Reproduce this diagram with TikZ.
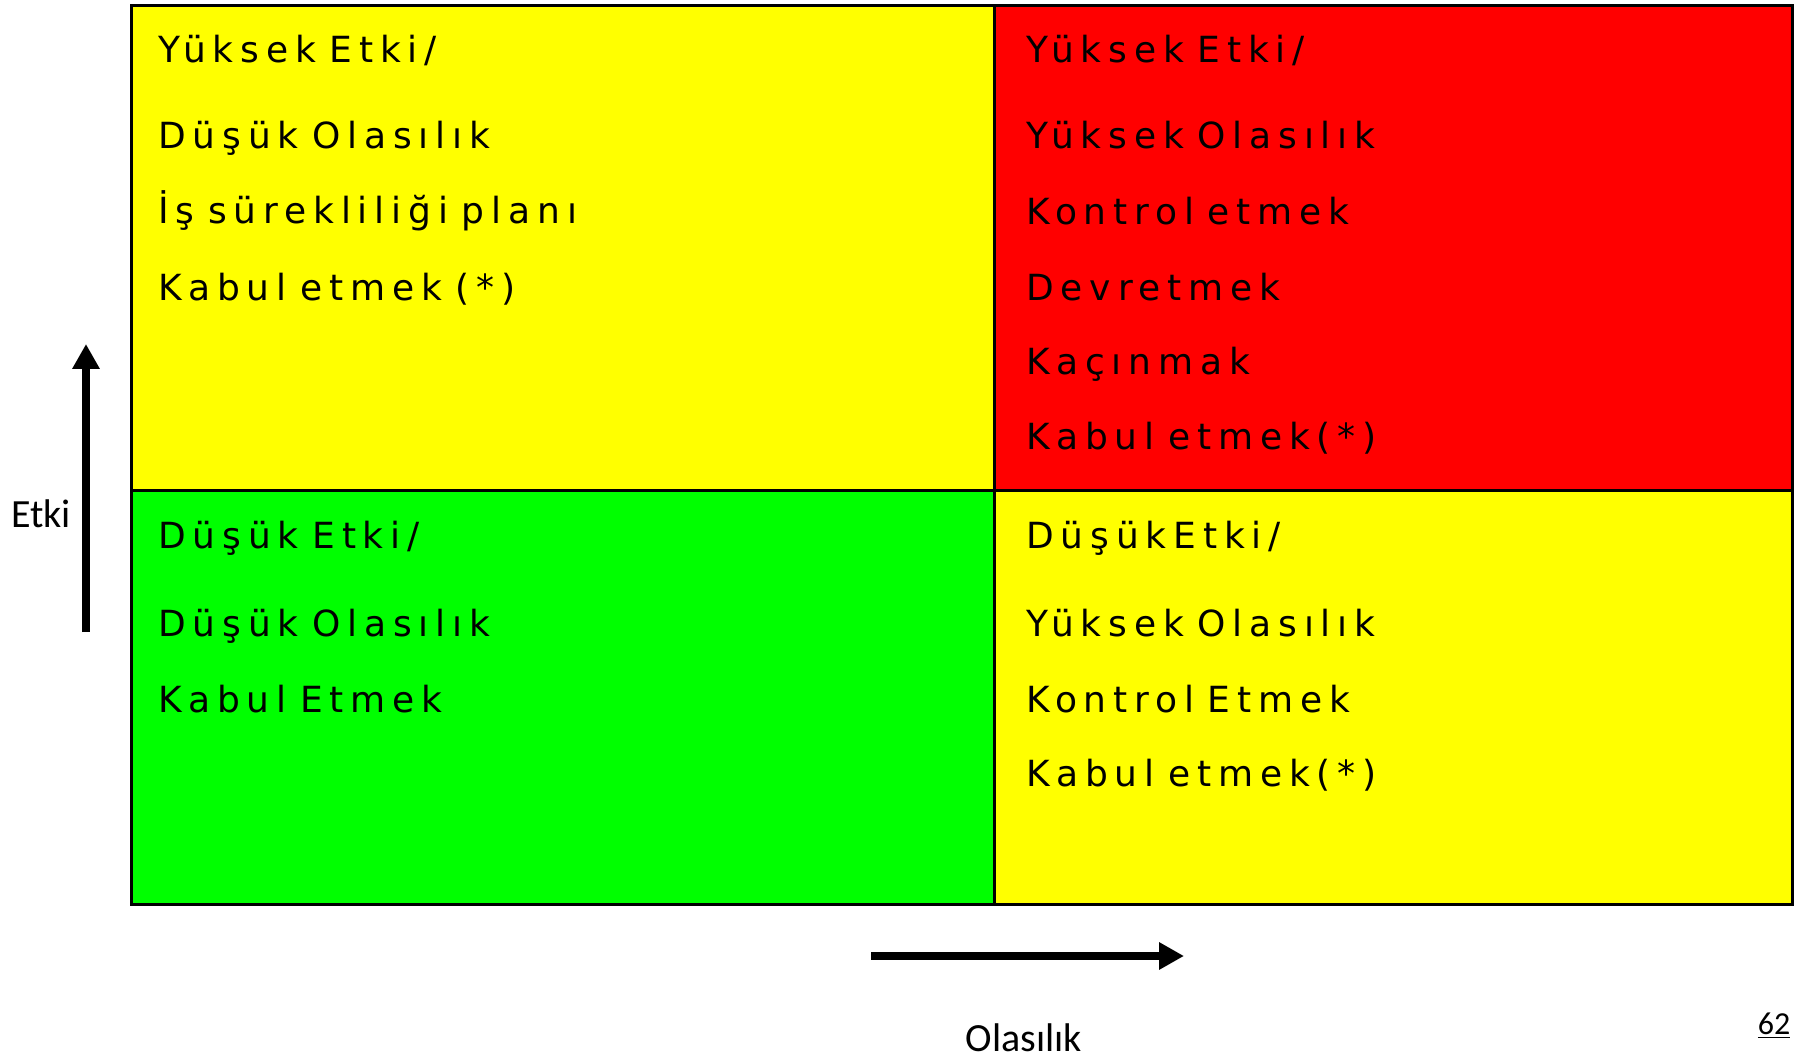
\documentclass[tikz,border=0pt]{standalone}
\usepackage{fontspec}
\setmainfont{Carlito}
\newfontfamily\cellfont[LetterSpace=19,WordSpace=0.75]{DejaVu Sans}
\usetikzlibrary{arrows.meta}
\definecolor{cyel}{RGB}{255,255,0}
\definecolor{cred}{RGB}{255,0,0}
\definecolor{cgrn}{RGB}{0,255,0}
\begin{document}
\begin{tikzpicture}[x=0.5pt,y=-0.5pt,
  celltext/.style={anchor=base west, inner sep=0pt, font=\cellfont\fontsize{18}{21}\selectfont},
  cellbox/.style={draw=black, line width=1.5pt},
  bigarrow/.style={line width=4pt, -{Triangle[width=13pt,length=12.5pt]}},
  axislabel/.style={anchor=base, inner sep=0pt, font=\fontsize{20}{24}\selectfont}]
\useasboundingbox (0,0) rectangle (1798,1058);
\fill[white] (0,0) rectangle (1798,1058);
% cells
\filldraw[cellbox, fill=cyel] (131,6) rectangle (994,491);
\filldraw[cellbox, fill=cred] (994,6) rectangle (1792,491);
\filldraw[cellbox, fill=cgrn] (131,491) rectangle (994,904);
\filldraw[cellbox, fill=cyel] (994,491) rectangle (1792,904);
% top-left
\node[celltext] (tl1) at (158,63) {Yüksek Etki/};
\node[celltext] (tl2) at (158,149) {Düşük Olasılık};
\node[celltext] (tl3) at (158,224) {İş sürekliliği planı};
\node[celltext] (tl4) at (158,301) {Kabul etmek (*)};
% top-right
\node[celltext] (tr1) at (1026,63) {Yüksek Etki/};
\node[celltext] (tr2) at (1026,149) {Yüksek Olasılık};
\node[celltext] (tr3) at (1026,225) {Kontrol etmek};
\node[celltext] (tr4) at (1026,301) {Devretmek};
\node[celltext] (tr5) at (1026,375) {Kaçınmak};
\node[celltext] (tr6) at (1026,450) {Kabul etmek(*)};
% bottom-left
\node[celltext] (bl1) at (158,548) {Düşük Etki/};
\node[celltext] (bl2) at (158,636) {Düşük Olasılık};
\node[celltext] (bl3) at (158,712) {Kabul Etmek};
% bottom-right
\node[celltext] (br1) at (1026,548) {DüşükEtki/};
\node[celltext] (br2) at (1026,636) {Yüksek Olasılık};
\node[celltext] (br3) at (1026,712) {Kontrol Etmek};
\node[celltext] (br4) at (1026,786) {Kabul etmek(*)};
% axes
\coordinate (ustart) at (86,632);
\coordinate (uend) at (86,344);
\draw[bigarrow] (ustart) -- (uend);
\coordinate (rstart) at (871,956);
\coordinate (rend) at (1184,956);
\draw[bigarrow] (rstart) -- (rend);
\node[axislabel] (etki) at (41,528) {Etki};
\node[axislabel] (olas) at (1024,1051) {Olasılık};
\node[anchor=base, inner sep=0pt, font=\fontsize{16}{19}\selectfont] (page) at (1774,1034) {\underline{62}};
\end{tikzpicture}
\end{document}
